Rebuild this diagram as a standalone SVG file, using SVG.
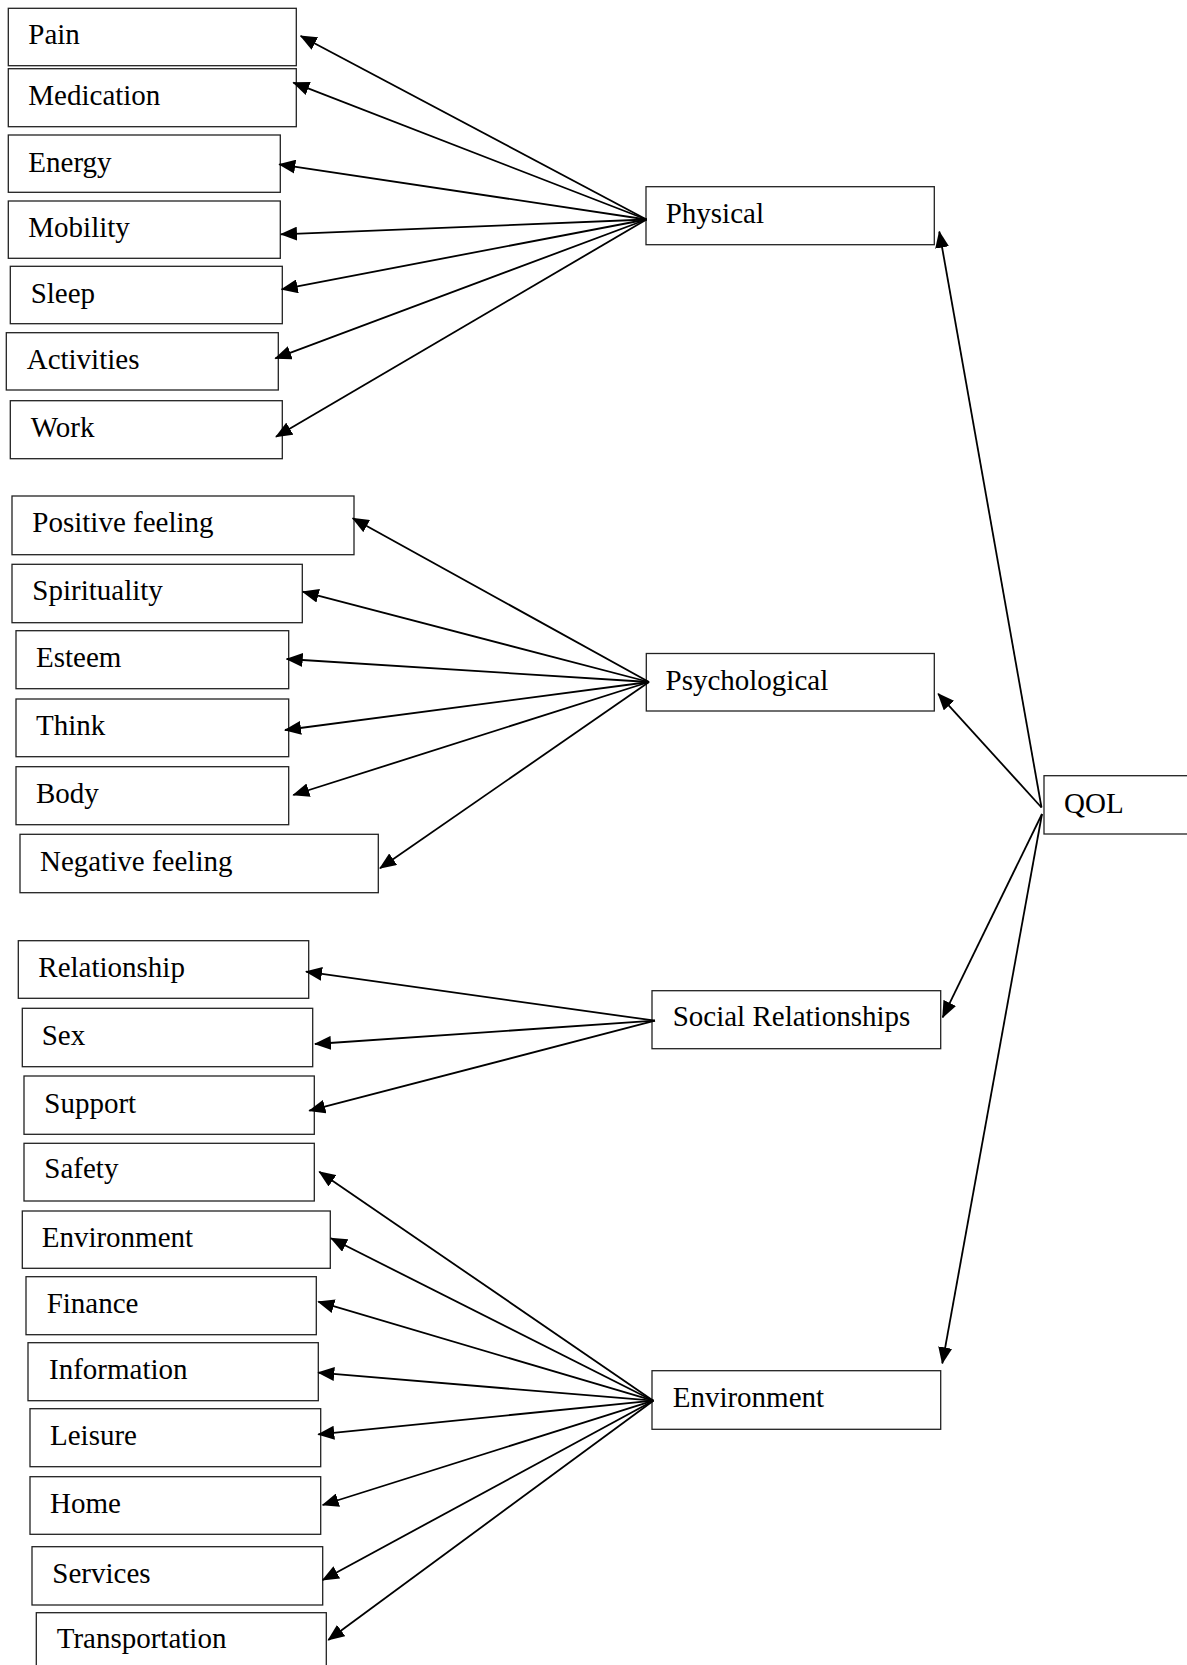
<svg xmlns="http://www.w3.org/2000/svg" width="1187" height="1665" viewBox="0 0 1187 1665">
<style>
.box{fill:#fff;stroke:#222;stroke-width:1.3}
.lbl{font-family:"Liberation Serif","Times New Roman",serif;font-size:29px;fill:#000}
.con line{stroke:#000;stroke-width:1.8;fill:none;marker-end:url(#ah)}
</style>
<defs>
<marker id="ah" markerUnits="userSpaceOnUse" viewBox="0 0 17 14" refX="16" refY="7" markerWidth="17" markerHeight="14" orient="auto">
<path d="M0,0 L17,7 L0,14 z" fill="#000"/>
</marker>
</defs>
<rect width="1187" height="1665" fill="#fff"/>
<g id="n-pain"><rect class="box" x="8.3" y="8.3" width="288" height="57.4"/><text class="lbl" x="28.3" y="44">Pain</text></g>
<g id="n-medication"><rect class="box" x="8.3" y="68.7" width="288" height="58"/><text class="lbl" x="28.3" y="105">Medication</text></g>
<g id="n-energy"><rect class="box" x="8.3" y="135" width="272" height="57.3"/><text class="lbl" x="28.3" y="172">Energy</text></g>
<g id="n-mobility"><rect class="box" x="8.3" y="201" width="272" height="57.3"/><text class="lbl" x="28.3" y="237">Mobility</text></g>
<g id="n-sleep"><rect class="box" x="10.3" y="266.3" width="272" height="57.4"/><text class="lbl" x="30.7" y="303">Sleep</text></g>
<g id="n-activities"><rect class="box" x="6.3" y="332.7" width="272" height="57.3"/><text class="lbl" x="26.7" y="368.7">Activities</text></g>
<g id="n-work"><rect class="box" x="10.3" y="400.7" width="272" height="58"/><text class="lbl" x="30.7" y="436.7">Work</text></g>
<g id="n-positive"><rect class="box" x="12" y="496" width="342" height="58.7"/><text class="lbl" x="32.3" y="532.3">Positive feeling</text></g>
<g id="n-spirituality"><rect class="box" x="12" y="564.3" width="290.3" height="58.4"/><text class="lbl" x="32.3" y="600">Spirituality</text></g>
<g id="n-esteem"><rect class="box" x="16" y="630.7" width="272.7" height="58"/><text class="lbl" x="36" y="666.7">Esteem</text></g>
<g id="n-think"><rect class="box" x="16" y="699" width="272.7" height="57.7"/><text class="lbl" x="36" y="735">Think</text></g>
<g id="n-body"><rect class="box" x="16" y="766.7" width="272.7" height="58"/><text class="lbl" x="36" y="802.7">Body</text></g>
<g id="n-negative"><rect class="box" x="20" y="834.3" width="358.3" height="58.4"/><text class="lbl" x="40" y="870.7">Negative feeling</text></g>
<g id="n-relationship"><rect class="box" x="18.3" y="940.7" width="290.4" height="57.6"/><text class="lbl" x="38.3" y="976.7">Relationship</text></g>
<g id="n-sex"><rect class="box" x="22.3" y="1008.3" width="290.4" height="58.4"/><text class="lbl" x="41.7" y="1045">Sex</text></g>
<g id="n-support"><rect class="box" x="24" y="1076" width="290.3" height="58.3"/><text class="lbl" x="44.3" y="1113.3">Support</text></g>
<g id="n-safety"><rect class="box" x="24" y="1143.3" width="290.3" height="57.7"/><text class="lbl" x="44.3" y="1178.3">Safety</text></g>
<g id="n-environment-item"><rect class="box" x="22.3" y="1211" width="308" height="57.3"/><text class="lbl" x="41.7" y="1246.7">Environment</text></g>
<g id="n-finance"><rect class="box" x="26" y="1276.7" width="290.3" height="58"/><text class="lbl" x="46.7" y="1312.7">Finance</text></g>
<g id="n-information"><rect class="box" x="28" y="1342.7" width="290.3" height="58"/><text class="lbl" x="49" y="1379.3">Information</text></g>
<g id="n-leisure"><rect class="box" x="30" y="1408.7" width="290.7" height="58"/><text class="lbl" x="50" y="1445">Leisure</text></g>
<g id="n-home"><rect class="box" x="30" y="1476.7" width="290.7" height="57.6"/><text class="lbl" x="50" y="1512.7">Home</text></g>
<g id="n-services"><rect class="box" x="32" y="1546.7" width="290.7" height="58.3"/><text class="lbl" x="52.3" y="1582.7">Services</text></g>
<g id="n-transportation"><rect class="box" x="36.3" y="1612.7" width="290" height="62"/><text class="lbl" x="56.7" y="1648.3">Transportation</text></g>
<g id="n-physical"><rect class="box" x="646" y="186.7" width="288.3" height="58"/><text class="lbl" x="665.7" y="222.7">Physical</text></g>
<g id="n-psychological"><rect class="box" x="646.3" y="653.5" width="288" height="57.5"/><text class="lbl" x="665.5" y="689.5">Psychological</text></g>
<g id="n-social"><rect class="box" x="652" y="990.7" width="288.7" height="58"/><text class="lbl" x="672.7" y="1026">Social Relationships</text></g>
<g id="n-environment"><rect class="box" x="652" y="1370.7" width="288.7" height="58.6"/><text class="lbl" x="672.7" y="1406.7">Environment</text></g>
<g id="n-qol"><rect class="box" x="1044" y="775.7" width="170" height="58.3"/><text class="lbl" x="1064" y="813.3">QOL</text></g>
<g id="connectors" class="con">
<line x1="646.5" y1="219.5" x2="300.7" y2="36"/>
<line x1="646.5" y1="219.5" x2="293.3" y2="82.7"/>
<line x1="646.5" y1="219.5" x2="279.3" y2="164.3"/>
<line x1="646.5" y1="219.5" x2="281" y2="234.3"/>
<line x1="646.5" y1="219.5" x2="281.7" y2="289.3"/>
<line x1="646.5" y1="219.5" x2="275.3" y2="358.3"/>
<line x1="646.5" y1="219.5" x2="276" y2="436.7"/>
<line x1="649" y1="682" x2="352.7" y2="518.3"/>
<line x1="649" y1="682" x2="302.7" y2="591.7"/>
<line x1="649" y1="682" x2="286.7" y2="659"/>
<line x1="649" y1="682" x2="285" y2="730"/>
<line x1="649" y1="682" x2="293.3" y2="795"/>
<line x1="649" y1="682" x2="380" y2="868.3"/>
<line x1="655" y1="1020.7" x2="306" y2="971.7"/>
<line x1="655" y1="1020.7" x2="315" y2="1044"/>
<line x1="655" y1="1020.7" x2="309.3" y2="1110.7"/>
<line x1="653.3" y1="1400.7" x2="319.3" y2="1171.7"/>
<line x1="653.3" y1="1400.7" x2="331" y2="1238.3"/>
<line x1="653.3" y1="1400.7" x2="318.3" y2="1301.7"/>
<line x1="653.3" y1="1400.7" x2="318.3" y2="1372.7"/>
<line x1="653.3" y1="1400.7" x2="318.3" y2="1434.3"/>
<line x1="653.3" y1="1400.7" x2="322.7" y2="1505"/>
<line x1="653.3" y1="1400.7" x2="322.7" y2="1580"/>
<line x1="653.3" y1="1400.7" x2="328.3" y2="1640"/>
<line x1="1041.5" y1="807.5" x2="939.3" y2="231.7"/>
<line x1="1041.5" y1="807.5" x2="938.2" y2="693.8"/>
<line x1="1042" y1="814" x2="942.7" y2="1017.3"/>
<line x1="1042" y1="814" x2="942.3" y2="1363.3"/>
</g>
</svg>
